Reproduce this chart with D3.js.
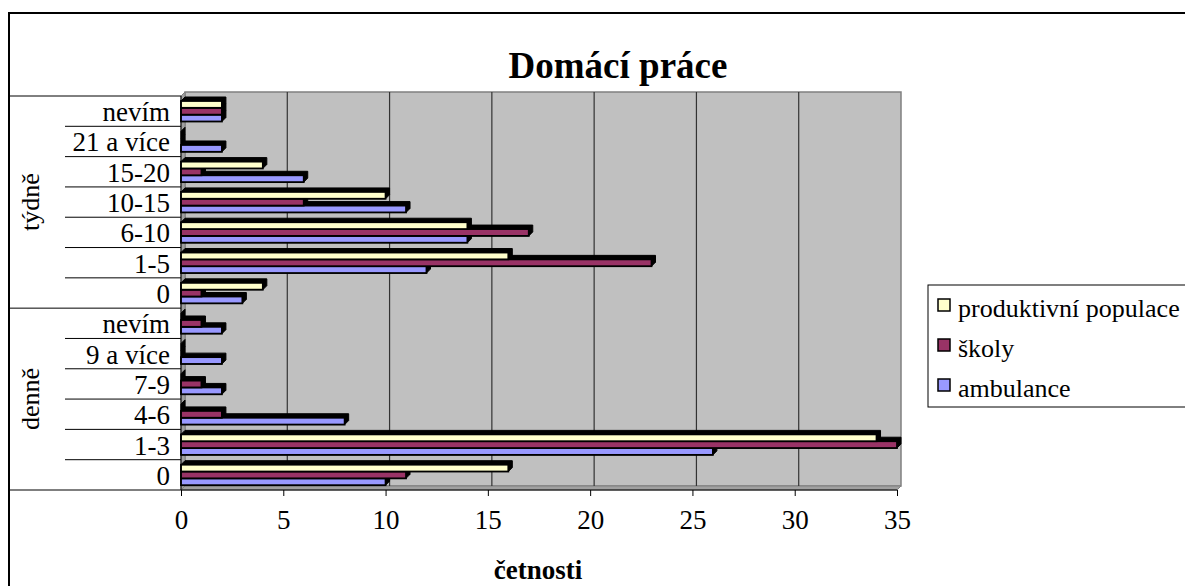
<!DOCTYPE html>
<html><head><meta charset="utf-8">
<script src="https://cdn.jsdelivr.net/npm/d3@7"></script>
<style>body{margin:0;background:#fff}svg{display:block}</style>
</head><body><svg id="c" width="1185" height="586"></svg>
<script>
const categories = ["nevím","21 a více","15-20","10-15","6-10","1-5","0","nevím","9 a více","7-9","4-6","1-3","0"];
const groups = ["týdně","denně"];
const groupSizes = [7,6];
const seriesNames = ["produktivní populace","školy","ambulance"];
const produktivni = [2,0,4,10,14,16,4, 0,0,0,0,34,16];
const skoly       = [2,0,1,6,17,23,1, 1,0,1,2,35,11];
const ambulance   = [2,2,6,11,14,12,3, 2,2,2,8,26,10];
const xTicks = [0,5,10,15,20,25,30,35];
const colors = ["#FFFFCC","#993366","#9999FF"];
const title = "Domácí práce";
const xTitle = "četnosti";

const FONT = "'Liberation Serif','Times New Roman',serif";
const svg = d3.select("#c");
const D = 4;
const x = d3.scaleLinear().domain([0,35]).range([181,897]);
const y = d3.scaleBand().domain(d3.range(categories.length)).range([96,490]);
const sub = d3.scaleBand().domain(d3.range(3)).range([5,25.5]);
const series = [produktivni, skoly, ambulance];

function txt(g, size, bold){
  return g.append("text").style("font-family",FONT).style("font-size",size+"px")
    .style("font-weight",bold?"bold":"normal").attr("fill","#000");
}

// chart border
svg.append("rect").attr("x",9).attr("y",13).attr("width",1300).attr("height",700)
  .attr("fill","#fff").attr("stroke","#000").attr("stroke-width",2);

// title
txt(svg,37,true).attr("x",618).attr("y",78).attr("text-anchor","middle").text(title);

const x0 = x(0), x1 = x(35), yT = y.range()[0], yB = y.range()[1];
// back wall
svg.append("rect").attr("x",x0+D).attr("y",yT-D).attr("width",x1-x0).attr("height",yB-yT)
  .attr("fill","#C0C0C0").attr("stroke","#808080").attr("stroke-width",1.5);
// side wall
svg.append("polygon").attr("points",[[x0,yT],[x0+D,yT-D],[x0+D,yB-D],[x0,yB]].join(" "))
  .attr("fill","#A0A0A0").attr("stroke","#808080");
// floor
svg.append("polygon").attr("points",[[x0,yB],[x0+D,yB-D],[x1+D,yB-D],[x1,yB]].join(" "))
  .attr("fill","#A0A0A0").attr("stroke","#808080");
// gridlines
svg.append("g").selectAll("line").data(xTicks.filter(v=>v>0 && v<35)).join("line")
  .attr("x1",d=>x(d)+D).attr("x2",d=>x(d)+D).attr("y1",yT-D).attr("y2",yB-D)
  .attr("stroke","#333").attr("stroke-width",1.2);

// bars
const bars = [];
categories.forEach((c,i)=>{ series.forEach((s,j)=>bars.push({i,j,v:s[i]})); });
bars.sort((a,b)=> (b.i*3+b.j)-(a.i*3+a.j));
const bg = svg.append("g");
bars.forEach(b=>{
  const bx = x(0), bw = x(b.v)-x(0);
  const by = y(b.i)+sub(b.j), bh = sub.bandwidth();
  bg.append("polygon").attr("points",[[bx,by],[bx+D,by-D],[bx+bw+D,by-D],[bx+bw+D,by+bh-D],[bx+bw,by+bh],[bx,by+bh]].join(" "))
    .attr("fill","#000").attr("stroke","#000").attr("stroke-width",1);
  bg.append("rect").attr("x",bx).attr("y",by).attr("width",bw).attr("height",bh)
    .attr("fill",colors[b.j]).attr("stroke","#000").attr("stroke-width",1.8);
});

// x axis
const xa = svg.append("g").attr("transform",`translate(0,${yB})`)
  .call(d3.axisBottom(x).tickValues(xTicks).tickSize(6).tickPadding(14).tickFormat(d3.format("d")));
xa.select(".domain").remove();
xa.selectAll("line").attr("stroke","#000");
xa.selectAll("text").style("font-size","27px").style("font-family",FONT).attr("fill","#000");
svg.append("line").attr("x1",9).attr("x2",x1).attr("y1",yB).attr("y2",yB).attr("stroke","#000").attr("stroke-width",1.2);

txt(svg,27,true).attr("x",538).attr("y",579).attr("text-anchor","middle").text(xTitle);

// category table
const lg = svg.append("g");
categories.forEach((c,i)=>{
  txt(lg,27,false).attr("x",170).attr("y",y(i)+y.bandwidth()/2+10).attr("text-anchor","end").text(c);
});
let start = 0;
const full = [yT];
groupSizes.forEach((n,g)=>{
  for(let k=start+1;k<start+n;k++){
    lg.append("line").attr("x1",65).attr("x2",x0).attr("y1",y(k)).attr("y2",y(k)).attr("stroke","#000");
  }
  const yc = (y(start)+y(start+n-1)+y.bandwidth())/2;
  txt(lg,26,false).attr("transform",`translate(39,${yc}) rotate(-90)`).attr("text-anchor","middle").text(groups[g]);
  start += n;
  full.push(y(start-1)+y.bandwidth());
});
full.slice(0,-1).forEach(v=>lg.append("line").attr("x1",9).attr("x2",x0).attr("y1",v).attr("y2",v).attr("stroke","#000"));
lg.append("line").attr("x1",x0).attr("x2",x0).attr("y1",yT).attr("y2",yB).attr("stroke","#000");

// legend
const leg = svg.append("g");
leg.append("rect").attr("x",928).attr("y",285).attr("width",300).attr("height",122)
  .attr("fill","#fff").attr("stroke","#000").attr("stroke-width",1);
seriesNames.forEach((n,k)=>{
  const by = 317 + k*40;
  leg.append("rect").attr("x",938).attr("y",by-18).attr("width",12).attr("height",12)
    .attr("fill",colors[k]).attr("stroke","#000").attr("stroke-width",1.5);
  txt(leg,26,false).attr("x",958).attr("y",by).text(n);
});
</script></body></html>
